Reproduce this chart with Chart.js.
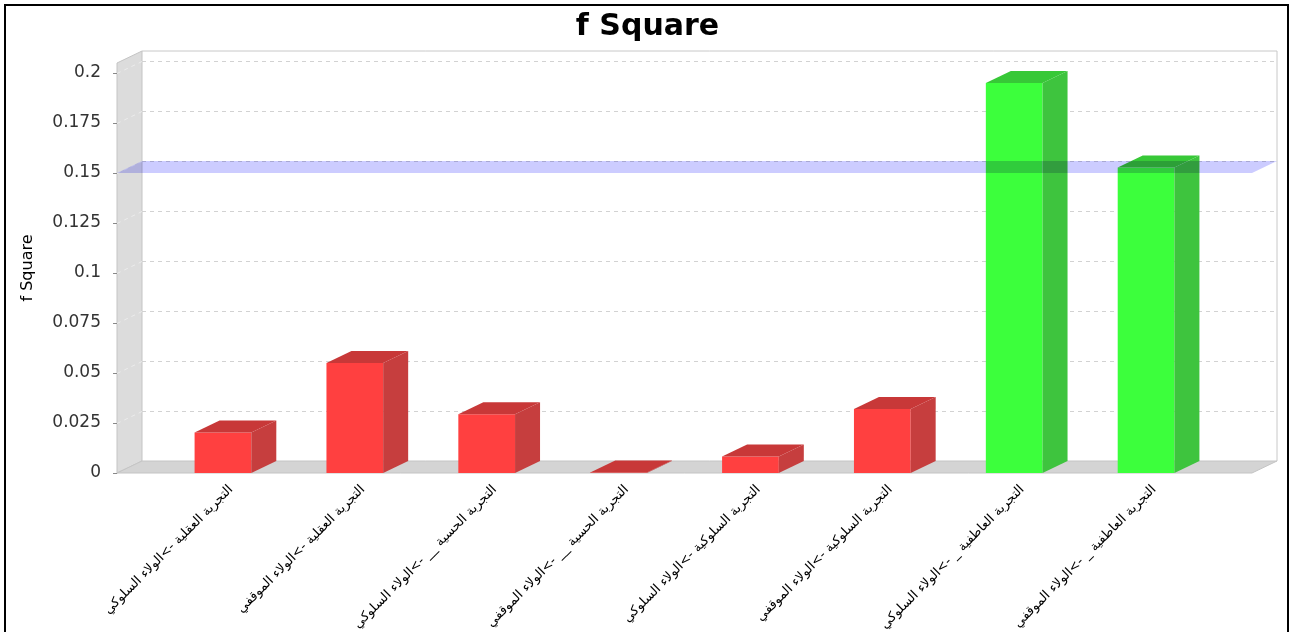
<!DOCTYPE html>
<html>
<head>
<meta charset="utf-8">
<script src="https://cdn.jsdelivr.net/npm/chart.js@4.4.0/dist/chart.umd.min.js"></script>
<style>
  html, body { margin: 0; padding: 0; background: #fff; }
  #wrap { position: relative; width: 1295px; height: 632px; }
</style>
</head>
<body>
<div id="wrap"><canvas id="chart" width="1295" height="632"></canvas></div>
<script>
// paths (categories), f square values, axis ticks
const paths = [
  "التجربة العقلية ->الولاء السلوكي",
  "التجربة العقلية ->الولاء الموقفي",
  "التجربة الحسية __ ->الولاء السلوكي",
  "التجربة الحسية __ ->الولاء الموقفي",
  "التجربة السلوكية ->الولاء السلوكي",
  "التجربة السلوكية ->الولاء الموقفي",
  "التجربة العاطفية _ ->الولاء السلوكي",
  "التجربة العاطفية _ ->الولاء الموقفي"
];
const fSquare = [0.0203, 0.055, 0.0294, 0.0003, 0.0082, 0.032, 0.195, 0.1527];
const yTicks = [0, 0.025, 0.05, 0.075, 0.1, 0.125, 0.15, 0.175, 0.2];
const threshold = 0.15;
const yMax = 0.205;

const FONT = "DejaVu Sans";

// 3D look: depth offset and how far the walls stick out past the bars
const DX = 25, DY = 12, SIDE = 40;

const colors = fSquare.map(v => v >= threshold
  ? { front: "rgb(60,255,60)", side: "rgb(62,196,62)", top: "rgb(55,200,55)" }
  : { front: "rgb(255,64,64)", side: "rgb(198,62,62)", top: "rgb(200,56,56)" });

function poly(ctx, pts, fill, stroke) {
  ctx.beginPath();
  ctx.moveTo(pts[0][0], pts[0][1]);
  for (let i = 1; i < pts.length; i++) ctx.lineTo(pts[i][0], pts[i][1]);
  ctx.closePath();
  if (fill) { ctx.fillStyle = fill; ctx.fill(); }
  if (stroke) { ctx.strokeStyle = stroke; ctx.lineWidth = 1; ctx.stroke(); }
}

const plot3d = {
  id: "plot3d",
  beforeDraw(chart) {
    const ctx = chart.ctx;
    ctx.save();
    ctx.strokeStyle = "#000";
    ctx.lineWidth = 2;
    ctx.strokeRect(5, 5, 1283, 700);
    ctx.restore();
  },
  beforeDatasetsDraw(chart) {
    const { ctx, chartArea: a, scales: { y } } = chart;
    const L = a.left - SIDE, R = a.right + SIDE, T = a.top, B = a.bottom;
    ctx.save();
    // back plane outline
    ctx.strokeStyle = "#c8c8c8";
    ctx.lineWidth = 1;
    ctx.beginPath();
    ctx.moveTo(L + DX, T - DY); ctx.lineTo(R + DX, T - DY); ctx.lineTo(R + DX, B - DY);
    ctx.stroke();
    // left wall + floor
    poly(ctx, [[L, T], [L + DX, T - DY], [L + DX, B - DY], [L, B]], "#dcdcdc", "#c4c4c4");
    poly(ctx, [[L, B], [L + DX, B - DY], [R + DX, B - DY], [R, B]], "#d4d4d4", "#c4c4c4");
    // grid lines on the back plane and the wall
    ctx.setLineDash([4, 4]);
    ctx.lineWidth = 1;
    yTicks.forEach(v => {
      if (v === 0) return;
      const py = Math.round(y.getPixelForValue(v)) + 0.5;
      ctx.strokeStyle = "#d2d2d2";
      ctx.beginPath();
      ctx.moveTo(L + DX, py - DY); ctx.lineTo(R + DX, py - DY);
      ctx.stroke();
      ctx.strokeStyle = "#ececec";
      ctx.beginPath();
      ctx.moveTo(L, py); ctx.lineTo(L + DX, py - DY);
      ctx.stroke();
    });
    ctx.setLineDash([]);
    // tick marks
    ctx.strokeStyle = "#888";
    yTicks.forEach(v => {
      const py = Math.round(y.getPixelForValue(v)) + 0.5;
      ctx.beginPath();
      ctx.moveTo(L - 4, py); ctx.lineTo(L, py);
      ctx.stroke();
    });
    ctx.restore();
  },
  afterDatasetsDraw(chart) {
    const { ctx, chartArea: a, scales: { y } } = chart;
    const L = a.left - SIDE, R = a.right + SIDE;
    const meta = chart.getDatasetMeta(0);
    ctx.save();
    meta.data.forEach((bar, i) => {
      const p = bar.getProps(["x", "y", "base", "width"], true);
      const l = p.x - p.width / 2, r = p.x + p.width / 2;
      const c = colors[i];
      poly(ctx, [[r, p.y], [r + DX, p.y - DY], [r + DX, p.base - DY], [r, p.base]], c.side);
      poly(ctx, [[l, p.y], [l + DX, p.y - DY], [r + DX, p.y - DY], [r, p.y]], c.top);
    });
    // f square 0.15 threshold plane
    const ty = y.getPixelForValue(threshold);
    ctx.globalCompositeOperation = "multiply";
    poly(ctx, [[L, ty], [L + DX, ty - DY], [R + DX, ty - DY], [R, ty]], "rgb(204,204,255)");
    ctx.restore();
  }
};

new Chart(document.getElementById("chart"), {
  type: "bar",
  plugins: [plot3d],
  data: {
    labels: paths,
    datasets: [{
      data: fSquare,
      backgroundColor: colors.map(c => c.front),
      borderWidth: 0,
      barPercentage: 0.43,
      categoryPercentage: 1
    }]
  },
  options: {
    responsive: false,
    animation: false,
    layout: { padding: 0 },
    plugins: {
      legend: { display: false },
      tooltip: { enabled: false },
      title: {
        display: true,
        text: "f Square",
        color: "#000",
        font: { family: FONT, size: 30, weight: "bold" },
        padding: { top: 9, bottom: 18 }
      }
    },
    scales: {
      x: {
        grid: { display: false },
        border: { display: false },
        ticks: {
          autoSkip: false,
          minRotation: 45,
          maxRotation: 45,
          padding: 1,
          labelOffset: 8,
          color: "#000",
          font: { family: FONT, size: 13 }
        },
        afterFit(s) { s.height = 159; }
      },
      y: {
        min: 0,
        max: yMax,
        grid: { display: false },
        border: { display: false },
        title: {
          display: true,
          text: "f Square",
          color: "#000",
          font: { family: FONT, size: 16 },
          padding: { top: 18, bottom: 0 }
        },
        ticks: {
          padding: 48,
          color: "#333",
          font: { family: FONT, size: 17 },
          callback: v => String(+Number(v).toFixed(3))
        },
        afterBuildTicks(s) { s.ticks = yTicks.map(v => ({ value: v })); },
        afterFit(s) { s.width = 157; }
      },
      // empty right-hand strip so the walls fit and the title stays centred
      yRight: {
        position: "right",
        grid: { display: false },
        border: { display: false },
        ticks: { display: false },
        afterFit(s) { s.width = 83; }
      }
    }
  }
});
</script>
</body>
</html>
